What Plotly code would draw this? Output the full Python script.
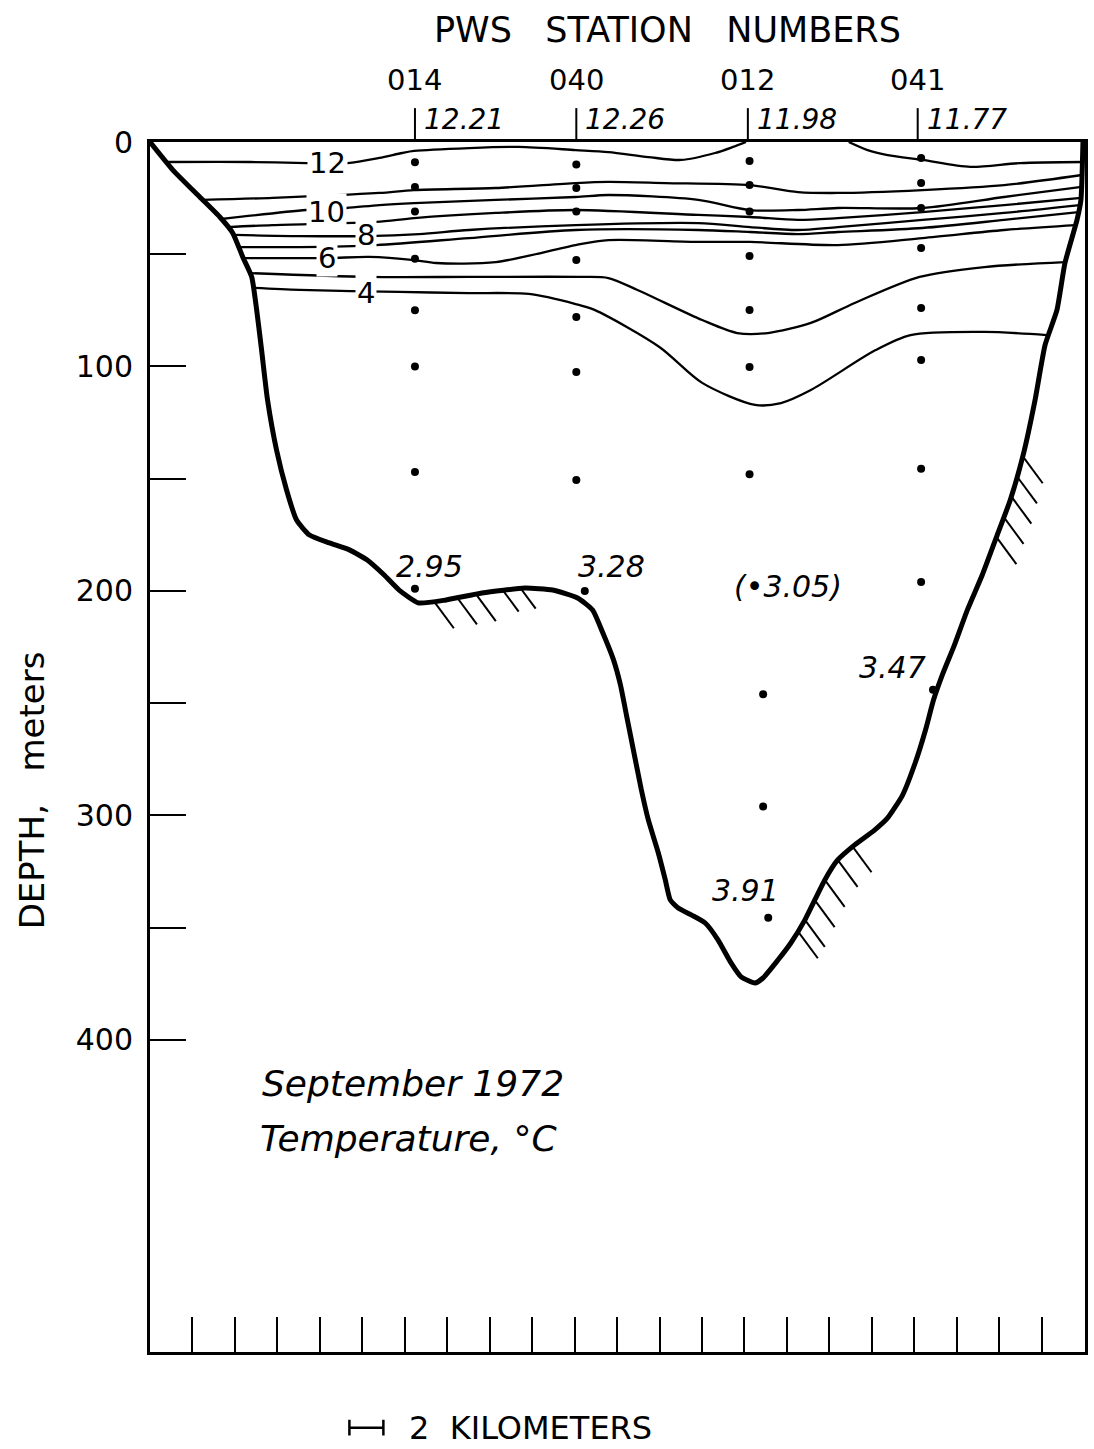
import plotly.graph_objects as go

# ---- Stations along the section (distance in km from the western end) ----
station_ids = ["014", "040", "012", "041"]
station_km = [15.6, 25.1, 35.2, 45.2]
surface_temp = ["12.21", "12.26", "11.98", "11.77"]

# ---- Bottle sample positions (km, depth m) ----
cast_014_km = [15.6, 15.6, 15.6, 15.6, 15.6, 15.6, 15.6, 15.6]
cast_014_m = [9, 20, 31, 52, 75, 100, 147, 199]
cast_040_km = [25.1, 25.1, 25.1, 25.1, 25.1, 25.1, 25.1, 25.6]
cast_040_m = [10, 20.5, 31, 52.6, 78, 102.4, 150.6, 200]
cast_012_km = [35.3, 35.3, 35.3, 35.3, 35.3, 35.3, 35.3, 36.1, 36.1, 36.4]
cast_012_m = [8.5, 19.2, 31, 50.8, 74.8, 100.2, 148, 246, 296, 345.6]
cast_041_km = [45.4, 45.4, 45.4, 45.4, 45.4, 45.4, 45.4, 45.4, 46.1]
cast_041_m = [7.1, 18.3, 29.4, 47.2, 73.9, 97.1, 145.6, 196, 244]

# ---- Near-bottom temperatures (°C) ----
bottom_temp_text = ["2.95", "3.28", "(\u20223.05)", "3.47", "3.91"]
bottom_temp_km = [16.43, 27.17, 37.56, 43.72, 35.09]
bottom_temp_m = [188.9, 188.9, 198.2, 234.3, 333.2]

# ---- Sea floor profile ----
bottom_km = [0.0, 1.35, 2.93, 4.11, 4.87, 5.46, 5.99, 6.28, 6.57, 6.92, 7.45, 8.04,
             8.63, 9.39, 10.56, 11.74, 12.79, 13.79, 14.67, 15.79, 17.43, 19.54,
             22.07, 23.71, 25.18, 26.06, 26.64, 27.29, 27.70, 28.05, 28.46, 28.93,
             29.34, 29.93, 30.34, 30.63, 31.10, 31.87, 32.69, 33.45, 34.21, 34.80,
             35.62, 36.09, 36.97, 37.73, 38.56, 39.73, 40.49, 41.49, 42.66, 43.43,
             44.31, 45.07, 45.66, 46.13, 46.65, 47.36, 48.12, 49.00, 49.88, 50.65,
             51.41, 52.11, 52.70, 53.40, 53.87, 54.58, 54.81, 54.93]
bottom_m = [0.0, 12.5, 24.5, 33.4, 40.5, 51.2, 60.1, 74.8, 92.7, 114.9, 137.2, 155.0,
            168.4, 175.1, 178.6, 181.7, 186.2, 192.9, 199.6, 205.3, 204.0, 200.9,
            198.7, 199.6, 203.1, 208.5, 218.3, 230.7, 241.9, 255.2, 270.8, 288.6,
            302.0, 316.7, 328.7, 337.6, 341.2, 344.3, 347.9, 355.5, 365.7, 371.9,
            374.6, 372.4, 364.4, 356.8, 346.5, 328.7, 319.8, 313.1, 306.5, 301.1,
            290.9, 276.2, 261.9, 248.6, 237.4, 224.1, 208.5, 192.9, 175.1, 159.5,
            139.4, 114.9, 90.4, 74.8, 53.9, 34.7, 25.8, 0.0]

# ---- Seabed hatching: start points on the bottom and relative stroke length ----
hatch_km = [16.72, 18.08, 19.19, 20.77, 21.83,
            49.84, 50.26, 50.72, 51.05, 51.39,
            38.15, 38.56, 39.14, 39.73, 40.49, 41.37]
hatch_m = [204.6, 202.9, 201.4, 199.6, 198.9,
           176.0, 167.0, 158.0, 149.0, 140.0,
           351.6, 346.5, 337.7, 328.7, 319.8, 313.9]
hatch_len = [1.0, 1.0, 1.0, 0.8, 0.75,
             1.0, 1.0, 1.0, 1.0, 1.0,
             1.0, 1.0, 1.0, 1.0, 1.0, 0.95]
HATCH_DX_KM = 1.17
HATCH_DZ_M = 12.0

# ---- Isotherms (°C): distance km / depth m ----
iso_12a_km = [0.96, 5.87, 9.21, 11.62, 13.50, 14.85, 15.55, 18.78, 21.71, 25.06, 26.99,
              29.34, 31.28, 33.27, 34.33, 35.09]
iso_12a_m = [8.9, 8.9, 9.4, 9.4, 7.1, 4.9, 4.0, 2.7, 2.2, 3.6, 4.5, 6.7, 8.0, 4.9, 2.2, 0.0]
iso_12b_km = [41.14, 42.25, 43.43, 45.48, 48.30, 51.23, 54.93]
iso_12b_m = [0.0, 3.6, 5.8, 8.0, 11.1, 9.4, 8.9]

iso_11_km = [3.1, 7.22, 13.50, 15.55, 20.36, 25.06, 26.99, 30.34, 35.33, 38.15, 40.49,
             45.48, 50.29, 54.87]
iso_11_m = [25.8, 24.9, 22.7, 21.4, 20.5, 18.3, 17.8, 18.3, 19.2, 22.3, 22.7, 21.4, 19.2, 14.7]

iso_10_km = [4.2, 9.21, 11.56, 13.50, 15.55, 20.36, 25.06, 26.99, 32.28, 35.33, 38.15,
             40.49, 45.48, 50.29, 54.85]
iso_10_m = [34.3, 30.3, 29.4, 28.1, 27.2, 25.8, 24.5, 23.6, 25.8, 30.3, 30.3, 29.4, 29.4,
            24.5, 20.0]

iso_9_km = [4.55, 7.22, 13.32, 15.55, 20.36, 25.06, 32.28, 35.33, 38.15, 40.49, 45.48,
            50.29, 54.82]
iso_9_m = [37.9, 37.0, 35.6, 33.9, 31.6, 30.3, 32.5, 33.4, 34.7, 33.9, 31.2, 28.1, 24.9]

iso_8_km = [4.95, 8.80, 12.73, 15.85, 18.78, 25.06, 32.28, 35.33, 38.15, 40.49, 45.48,
            50.29, 54.75]
iso_8_m = [41.4, 41.9, 41.9, 41.0, 39.2, 37.0, 36.1, 37.9, 39.2, 37.9, 34.7, 31.6, 28.1]

iso_7_km = [5.22, 8.80, 13.32, 18.78, 25.06, 32.28, 35.33, 38.15, 40.49, 45.48, 50.29,
            54.67]
iso_7_m = [46.8, 46.8, 45.9, 42.8, 39.2, 39.2, 40.1, 41.0, 40.1, 38.3, 34.7, 31.2]

iso_6_km = [5.5, 10.45, 12.91, 15.55, 16.84, 20.36, 25.06, 26.99, 32.28, 35.33, 40.49,
            45.48, 50.29, 54.5]
iso_6_m = [51.7, 51.7, 51.2, 52.6, 53.9, 53.5, 45.9, 43.7, 44.5, 44.5, 45.9, 42.8, 39.2,
           37.0]

iso_5_km = [5.92, 12.91, 18.78, 25.41, 26.99, 28.70, 32.51, 34.57, 36.38, 38.91, 41.49,
            45.31, 49.12, 53.88]
iso_5_m = [58.4, 60.1, 60.1, 60.1, 60.6, 65.9, 79.3, 85.1, 85.1, 80.6, 71.7, 60.1, 55.7,
           53.5]

iso_4_km = [6.1, 8.80, 14.67, 18.78, 22.30, 25.06, 26.17, 29.99, 32.51, 35.62, 37.15,
            38.91, 42.72, 44.78, 49.12, 52.8]
iso_4_m = [65.0, 65.9, 66.8, 67.3, 67.7, 72.2, 74.8, 91.3, 107.3, 117.1, 116.3, 110.5,
           92.7, 86.0, 84.6, 86.0]

# Contour labels
iso_label_text = ["12", "10", "8", "6", "4"]
iso_label_km = [10.45, 10.39, 12.73, 10.45, 12.73]
iso_label_m = [9.4, 31.2, 41.4, 51.7, 67.3]

# Axis ticks
depth_ticks = [0, 50, 100, 150, 200, 250, 300, 350, 400]
depth_tick_text = ["0", "", "100", "", "200", "", "300", "", "400"]
distance_ticks = [2.5, 5, 7.5, 10, 12.5, 15, 17.5, 20, 22.5, 25, 27.5, 30, 32.5, 35,
                  37.5, 40, 42.5, 45, 47.5, 50, 52.5, 55]
X_MAX_KM = 55.05
Y_MAX_M = 539
SCALE_KM = 2

FONT = "DejaVu Sans"
INK = "black"

fig = go.Figure()

isotherms = [
    (iso_12a_km, iso_12a_m), (iso_12b_km, iso_12b_m), (iso_11_km, iso_11_m),
    (iso_10_km, iso_10_m), (iso_9_km, iso_9_m), (iso_8_km, iso_8_m),
    (iso_7_km, iso_7_m), (iso_6_km, iso_6_m), (iso_5_km, iso_5_m), (iso_4_km, iso_4_m),
]
for xs, ys in isotherms:
    fig.add_trace(go.Scatter(x=xs, y=ys, mode="lines",
                             line=dict(color=INK, width=2.3, shape="spline", smoothing=0.8),
                             hoverinfo="skip"))

# Hatch strokes below the sea floor
hx, hy = [], []
for x0, y0, s in zip(hatch_km, hatch_m, hatch_len):
    hx += [x0, x0 + HATCH_DX_KM * s, None]
    hy += [y0, y0 + HATCH_DZ_M * s, None]
fig.add_trace(go.Scatter(x=hx, y=hy, mode="lines", line=dict(color=INK, width=2),
                         hoverinfo="skip"))

# Sea floor
fig.add_trace(go.Scatter(x=bottom_km, y=bottom_m, mode="lines",
                         line=dict(color=INK, width=5, shape="spline", smoothing=0.5),
                         hoverinfo="skip"))

# Sample dots
for xs, ys in [(cast_014_km, cast_014_m), (cast_040_km, cast_040_m),
               (cast_012_km, cast_012_m), (cast_041_km, cast_041_m)]:
    fig.add_trace(go.Scatter(x=xs, y=ys, mode="markers",
                             marker=dict(color=INK, size=8), hoverinfo="skip"))

annotations = []

# Isotherm labels (white boxes break the lines)
for t, x, y in zip(iso_label_text, iso_label_km, iso_label_m):
    annotations.append(dict(x=x, y=y, xref="x", yref="y", text=t, showarrow=False,
                            bgcolor="white", borderpad=1,
                            font=dict(family=FONT, size=29, color=INK)))

# Near-bottom temperatures
for t, x, y in zip(bottom_temp_text, bottom_temp_km, bottom_temp_m):
    annotations.append(dict(x=x, y=y, xref="x", yref="y", text=t, showarrow=False,
                            font=dict(family=FONT, size=30, color=INK, style="italic")))

# Station numbers and surface temperatures above the frame
for sid, x, st in zip(station_ids, station_km, surface_temp):
    annotations.append(dict(x=x, y=1.0512, xref="x", yref="paper", text=sid,
                            showarrow=False, xanchor="center", yanchor="middle",
                            font=dict(family=FONT, size=29, color=INK)))
    annotations.append(dict(x=x, y=1.0182, xref="x", yref="paper", text=st,
                            showarrow=False, xanchor="left", yanchor="middle", xshift=7,
                            font=dict(family=FONT, size=28, color=INK, style="italic")))

annotations.append(dict(x=0.554, y=1.0926, xref="paper", yref="paper",
                        text="PWS   STATION   NUMBERS", showarrow=False,
                        xanchor="center", yanchor="middle",
                        font=dict(family=FONT, size=35, color=INK)))

annotations.append(dict(x=-0.1258, y=0.4645, xref="paper", yref="paper",
                        text="DEPTH,   meters", textangle=-90, showarrow=False,
                        xanchor="center", yanchor="middle",
                        font=dict(family=FONT, size=34, color=INK)))

annotations.append(dict(x=6.46, y=419.2, xref="x", yref="y", text="September 1972",
                        showarrow=False, xanchor="left", yanchor="middle",
                        font=dict(family=FONT, size=36, color=INK, style="italic")))
annotations.append(dict(x=6.34, y=443.7, xref="x", yref="y", text="Temperature, \u00b0C",
                        showarrow=False, xanchor="left", yanchor="middle",
                        font=dict(family=FONT, size=36, color=INK, style="italic")))

# Scale bar and its label
SCALE_Y = -0.0625
annotations.append(dict(x=11.74 + SCALE_KM + 1.4, y=SCALE_Y, xref="x", yref="paper",
                        text="2  KILOMETERS", showarrow=False,
                        xanchor="left", yanchor="middle",
                        font=dict(family=FONT, size=32, color=INK)))

shapes = []
# Station position marks above the frame
for x in station_km:
    shapes.append(dict(type="line", xref="x", yref="paper", x0=x, x1=x, y0=1.0, y1=1.028,
                       line=dict(color=INK, width=2)))
sb0 = 11.74
sb1 = sb0 + SCALE_KM
shapes.append(dict(type="line", xref="x", yref="paper", x0=sb0, x1=sb1,
                   y0=SCALE_Y, y1=SCALE_Y, line=dict(color=INK, width=2.5)))
for xb in (sb0, sb1):
    shapes.append(dict(type="line", xref="x", yref="paper", x0=xb, x1=xb,
                       y0=SCALE_Y + 0.0065, y1=SCALE_Y - 0.0065,
                       line=dict(color=INK, width=2.5)))

fig.update_layout(
    width=1094, height=1449,
    margin=dict(l=150, r=6, t=142, b=97, pad=0),
    paper_bgcolor="white", plot_bgcolor="white",
    showlegend=False,
    annotations=annotations,
    shapes=shapes,
    xaxis=dict(range=[0, X_MAX_KM], showgrid=False, zeroline=False,
               showline=True, linecolor=INK, linewidth=3, mirror=True,
               ticks="inside", ticklen=35, tickwidth=2, tickcolor=INK,
               tickvals=distance_ticks, showticklabels=False),
    yaxis=dict(range=[Y_MAX_M, 0], showgrid=False, zeroline=False,
               showline=True, linecolor=INK, linewidth=3, mirror=True,
               ticks="inside", ticklen=36, tickwidth=2, tickcolor=INK,
               tickvals=depth_ticks, ticktext=depth_tick_text,
               ticklabelstandoff=8,
               tickfont=dict(family=FONT, size=30, color=INK)),
)

fig.write_html("out.html")
